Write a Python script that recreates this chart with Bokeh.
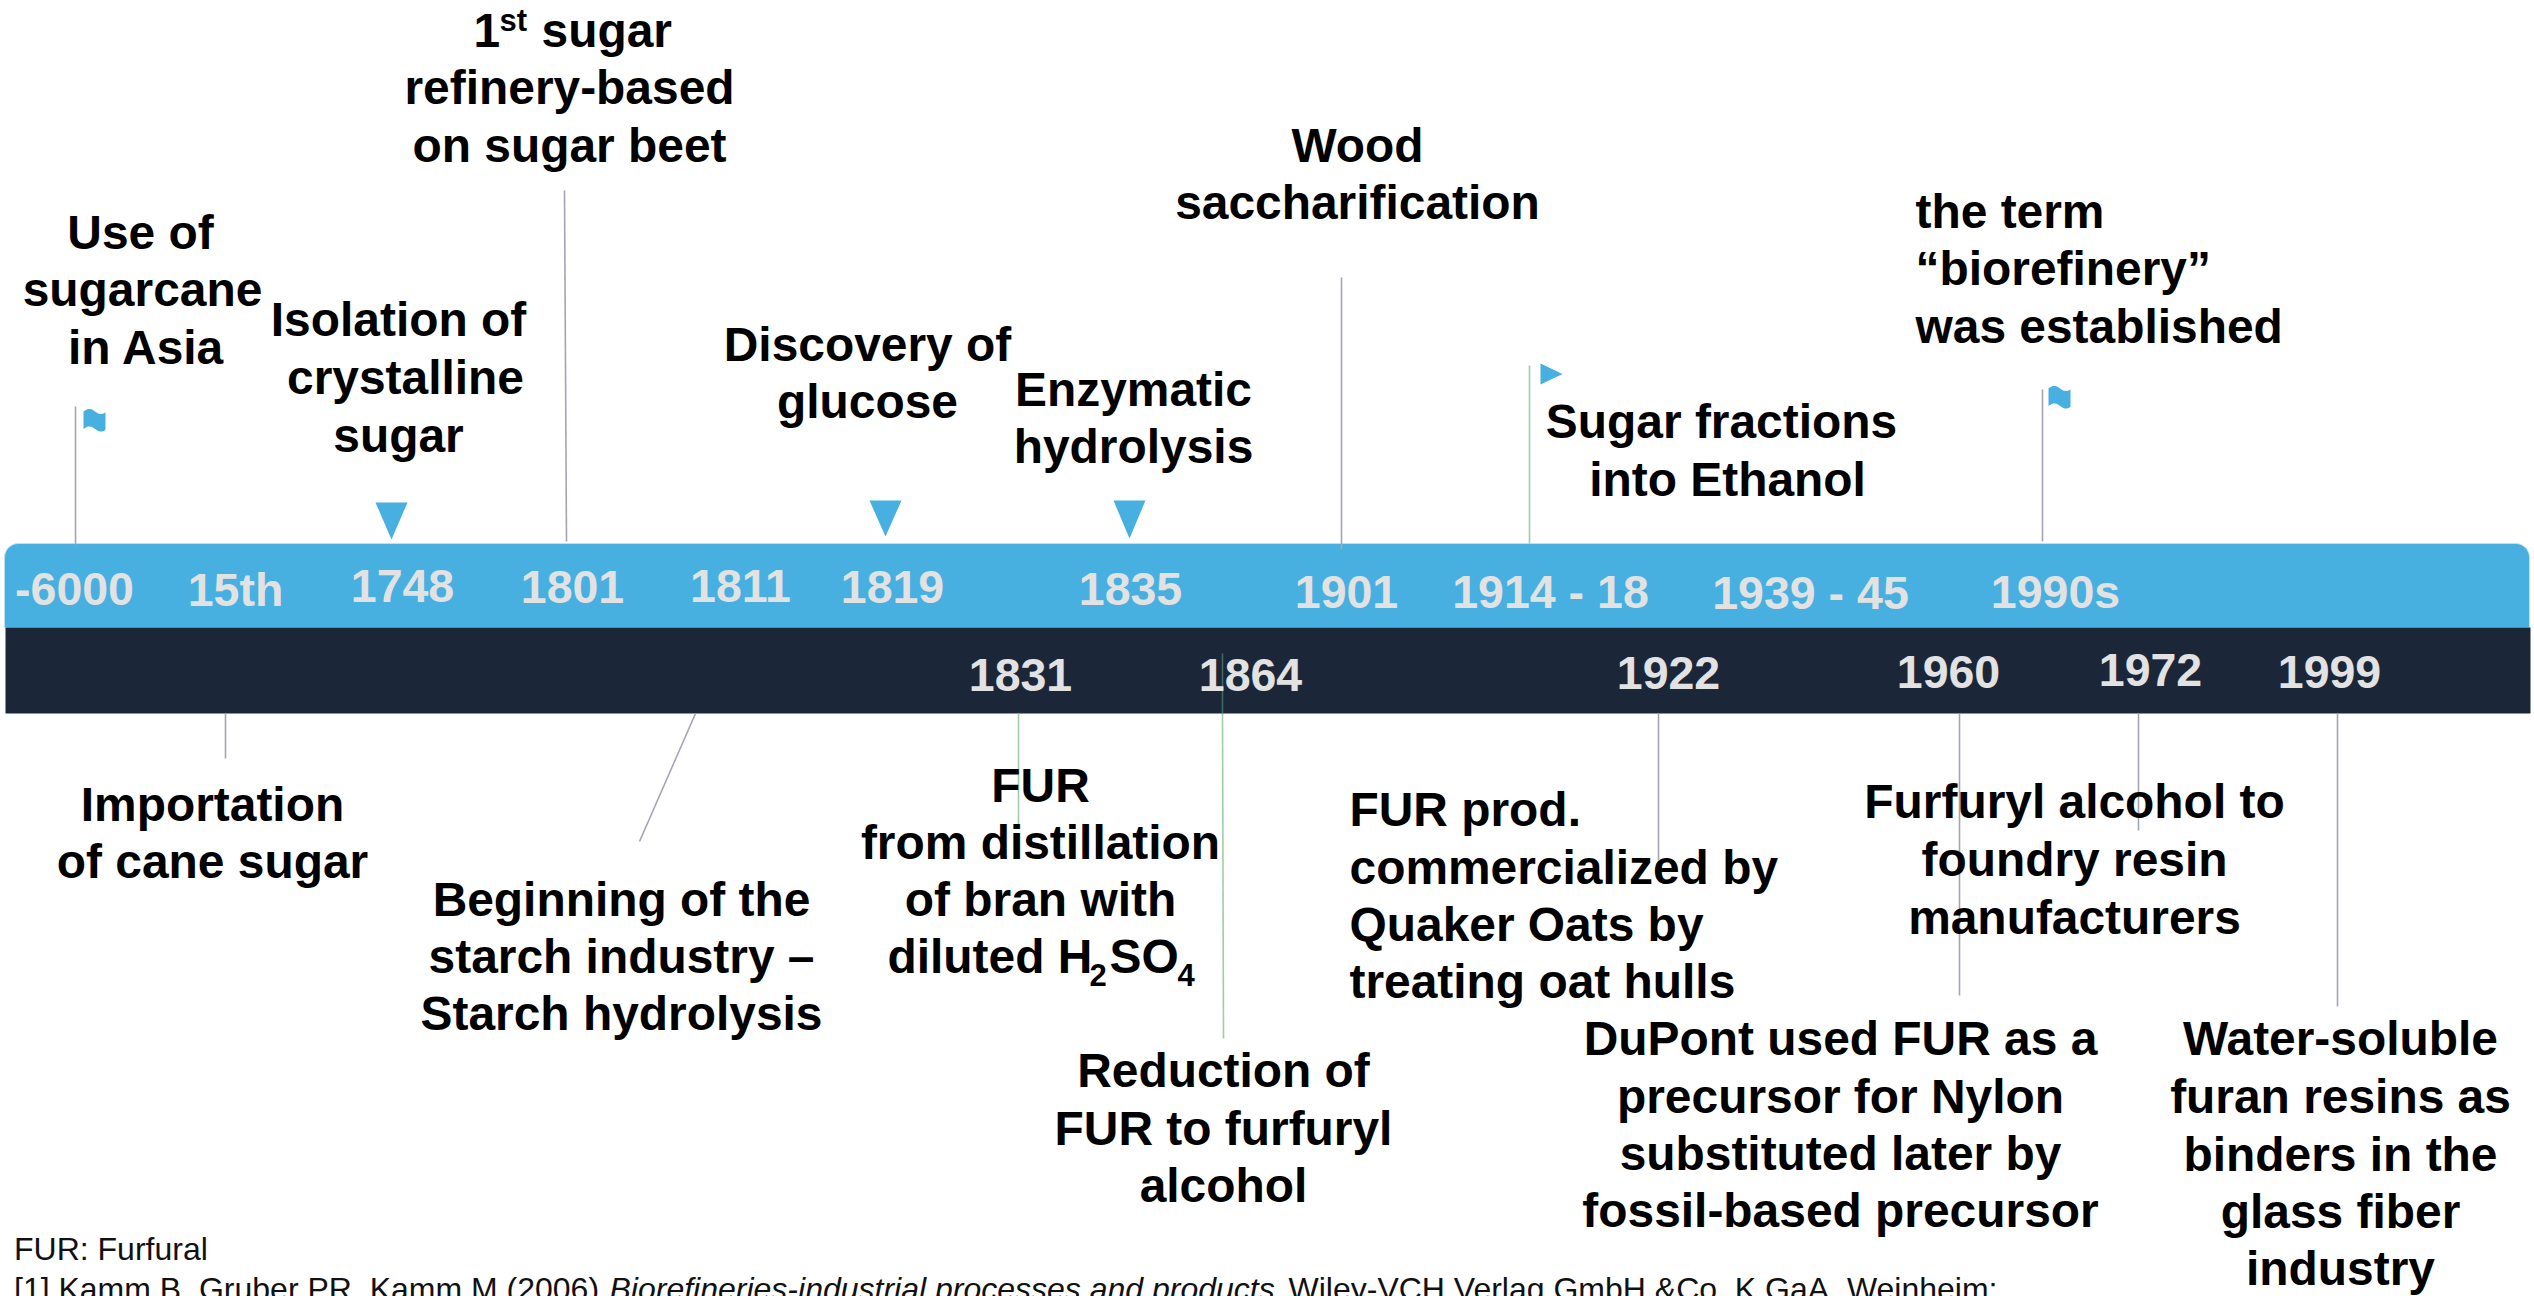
import numpy as np
from bokeh.plotting import figure
from bokeh.models import ColumnDataSource
from bokeh.core.properties import value
from bokeh.embed import file_html
from bokeh.resources import INLINE

W, H = 2534, 1296
FONT = value("Liberation Sans")
BLUE, NAVY, YEARC = "#47B0E1", "#1C2639", "#E2E2E2"
GREY, GREEN, DIM_GREEN = "#A3A5B3", "#A2CCA8", "#3F6A60"

# ---- era labels on the two bands
top_years = ["-6000", "15th", "1748", "1801", "1811", "1819", "1835", "1901", "1914 - 18", "1939 - 45", "1990s"]
top_year_x = [74, 235, 402, 572, 740, 892, 1130, 1346, 1550, 1810, 2055]
top_year_y = [604, 605, 601, 602, 601, 602, 604, 607, 607, 608, 607]
low_years = ["1831", "1864", "1922", "1960", "1972", "1999"]
low_year_x = [1020, 1250, 1668, 1948, 2150, 2329]
low_year_y = [690, 690, 688, 687, 685, 687]

# ---- event captions: one entry per printed line
center_lines = ["Use of", "sugarcane", "in Asia",
                "Isolation of", "crystalline", "sugar",
                "refinery-based", "on sugar beet",
                "Discovery of", "glucose",
                "Enzymatic", "hydrolysis",
                "Wood", "saccharification",
                "Sugar fractions", "into Ethanol",
                "Importation", "of cane sugar",
                "Beginning of the", "starch industry \u2013", "Starch hydrolysis",
                "FUR", "from distillation", "of bran with",
                "Reduction of", "FUR to furfuryl", "alcohol",
                "Furfuryl alcohol to", "foundry resin", "manufacturers",
                "DuPont used FUR as a", "precursor for Nylon", "substituted later by", "fossil-based precursor",
                "Water-soluble", "furan resins as", "binders in the", "glass fiber", "industry"]
center_x = [140, 142, 146,
            398, 405, 398,
            569, 569,
            867, 867,
            1133, 1133,
            1357, 1357,
            1721, 1727,
            212, 212,
            621, 621, 621,
            1040, 1040, 1040,
            1223, 1223, 1223,
            2074, 2074, 2074,
            1840, 1840, 1840, 1840,
            2340, 2340, 2340, 2340, 2340]
center_y = [248, 305, 363,
            335, 393, 451,
            103, 161,
            360, 417,
            405, 462,
            161, 218,
            437, 495,
            820, 877,
            915, 972, 1029,
            801, 858, 915,
            1086, 1144, 1201,
            817, 875, 933,
            1054, 1112, 1169, 1226,
            1054, 1112, 1170, 1227, 1284]
left_lines = ["the term", "\u201cbiorefinery\u201d", "was established",
              "FUR prod.", "commercialized by", "Quaker Oats by", "treating oat hulls",
              "1", "sugar", "diluted H", "SO"]
left_x = [1915, 1915, 1915, 1349, 1349, 1349, 1349, 473, 541, 887, 1109]
left_y = [227, 284, 342, 825, 883, 940, 997, 46, 46, 972, 972]
small_lines = ["st", "2", "4"]
small_x = [499, 1089, 1177]
small_y = [31, 985, 985]

# ---- footnote
note_plain = ["FUR: Furfural", "[1] Kamm B, Gruber PR, Kamm M (2006) ", "Wiley-VCH Verlag GmbH &Co. K GaA, Weinheim;"]
note_plain_x = [13.5, 13.5, 1288]
note_plain_y = [1230, 1270, 1270]
note_italic = ["Biorefineries-industrial processes and products,"]
note_italic_x = [609]
note_italic_y = [1270]

# ---- leader lines: x at bar end, y at bar end, x at far end, y at far end
grey_x0 = [75, 564, 1341, 2042, 225, 695, 1658, 1959, 2138, 2337]
grey_y0 = [406, 190, 277, 389, 713, 713, 713, 713, 713, 713]
grey_x1 = [75, 566, 1341, 2042, 225, 639, 1658, 1959, 2138, 2337]
grey_y1 = [544, 541, 549, 541, 758, 841, 860, 995, 830, 1006]
green_x0 = [1529, 1018, 1222]
green_y0 = [365, 713, 713]
green_x1 = [1529, 1018, 1223]
green_y1 = [543, 824, 1038]
dim_x0, dim_y0, dim_x1, dim_y1 = [1222], [653], [1222], [713]

# ---- markers
pointer_x = [391, 885, 1129]
pointer_top = [502, 500, 500]
pointer_tip = [539, 536, 538]
pennant_x = [1540]
pennant_y = [363]
flag_x = [83, 2048]
flag_y = [408, 385]

# ---- bands
band_left, band_right = 4, 2529
band_top, band_mid, band_bottom = 543, 627, 713
corner = 14
BASE_SHIFT = 0.34  # alphabetic baseline offset of the SVG text, in em

p = figure(width=W, height=H, x_range=(0, W), y_range=(H, 0), output_backend="svg",
           toolbar_location=None, min_border=0, outline_line_color=None,
           background_fill_color="white", border_fill_color="white",
           styles={"position": "absolute", "left": "0px", "top": "0px"})
p.axis.visible = False
p.grid.visible = False

t = np.linspace(0, np.pi / 2, 12)
bx = np.concatenate([[band_left], band_left + corner * (1 - np.cos(t)),
                     band_right - corner * (1 - np.sin(t)), [band_right]])
by = np.concatenate([[band_mid], band_top + corner * (1 - np.sin(t)),
                     band_top + corner * (1 - np.cos(t)), [band_mid]])
p.patch(bx, by, fill_color=BLUE, line_color="#BFE0F2", line_width=1)
p.quad(left=[band_left + 1], right=[band_right + 1], top=[band_mid], bottom=[band_bottom],
       fill_color=NAVY, line_color=None)

p.segment(grey_x0, grey_y0, grey_x1, grey_y1, line_color=GREY, line_width=1.6)
p.segment(green_x0, green_y0, green_x1, green_y1, line_color=GREEN, line_width=1.6)
p.segment(dim_x0, dim_y0, dim_x1, dim_y1, line_color=DIM_GREEN, line_width=1.6)

p.patches([[x - 16, x + 16, x] for x in pointer_x],
          [[a, a, b] for a, b in zip(pointer_top, pointer_tip)],
          fill_color=BLUE, line_color=None)
p.patches([[x, x + 22, x] for x in pennant_x], [[y, y + 10.5, y + 21] for y in pennant_y],
          fill_color=BLUE, line_color=None)

u = np.linspace(0, 1, 24)
for fx, fy in zip(flag_x, flag_y):
    xs = fx + 22 * u
    top_edge = fy + 3 - 2.6 * np.sin(2 * np.pi * u * 0.95)
    low_edge = top_edge + 17.5
    p.patch(np.concatenate([xs, xs[::-1]]), np.concatenate([top_edge, low_edge[::-1]]),
            fill_color=BLUE, line_color=None)


def texts(lines, xs, ys, size, color="black", style="bold", align="center", baseline="alphabetic"):
    shift = BASE_SHIFT * size if baseline == "alphabetic" else 0
    src = ColumnDataSource(dict(x=xs, y=[v - shift for v in ys], t=lines))
    p.text("x", "y", "t", source=src, text_font=FONT, text_font_size=value(f"{size}px"),
           text_font_style=style, text_color=color, text_align=align, text_baseline=baseline)


texts(top_years, top_year_x, top_year_y, 46.5, color=YEARC)
texts(low_years, low_year_x, low_year_y, 46.5, color=YEARC)
texts(center_lines, center_x, center_y, 47.9)
texts(left_lines, left_x, left_y, 47.9, align="left")
texts(small_lines, small_x, small_y, 31, align="left")
texts(note_plain, note_plain_x, note_plain_y, 32, color="#111111", style="normal", align="left", baseline="top")
texts(note_italic, note_italic_x, note_italic_y, 32, color="#111111", style="italic", align="left", baseline="top")

open("out.html", "w").write(file_html(p, INLINE))
